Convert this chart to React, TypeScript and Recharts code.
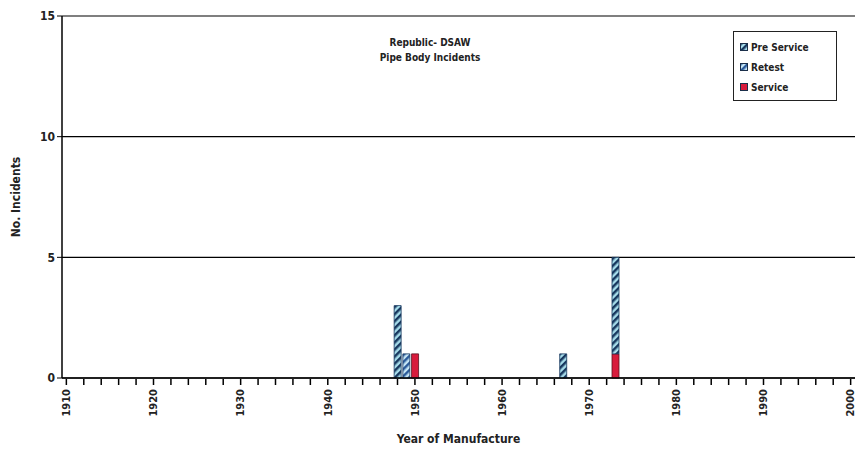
import React from "react"
import { Bar, BarChart, XAxis, YAxis, CartesianGrid, Label } from "recharts"

// first and last year on the axis
const firstYear = 1910
const lastYear = 2000

// [year, incidents], all other years are 0
const preService: [number, number][] = [
  [1948, 3],
  [1967, 1],
  [1973, 4],
]
const retest: [number, number][] = [[1949, 1]]
const service: [number, number][] = [
  [1950, 1],
  [1973, 1],
]

const yTicks = [0, 5, 10, 15]
const titleLines = ["Republic- DSAW", "Pipe Body Incidents"]
const legendItems = [
  { key: "preService", label: "Pre Service" },
  { key: "retest", label: "Retest" },
  { key: "service", label: "Service" },
]

const lookup = (list: [number, number][], year: number) => {
  const hit = list.find((d) => d[0] === year)
  return hit ? hit[1] : 0
}

const data: { year: number; preService: number; retest: number; service: number }[] = []
for (let y = firstYear; y <= lastYear; y++) {
  data.push({
    year: y,
    preService: lookup(preService, y),
    retest: lookup(retest, y),
    service: lookup(service, y),
  })
}

const font = "'DejaVu Sans Condensed', 'Liberation Sans Narrow', sans-serif"

const YearTick = (props: any) => {
  const { x, y, payload } = props
  const year = payload.value as number
  if (year % 2 !== 0) return null
  return (
    <g>
      <line x1={x} y1={y - 1} x2={x} y2={y + 5} stroke="#000" strokeWidth={1.5} />
      {year % 10 === 0 && (
        <text
          x={x}
          y={y + 9}
          transform={`rotate(-90, ${x}, ${y + 9})`}
          textAnchor="end"
          dy="0.35em"
          fontSize={11}
          fontWeight="bold"
          fontFamily={font}
          fill="#222"
        >
          {year}
        </text>
      )}
    </g>
  )
}

const icon: Record<string, string> = {
  preService: "url(#preHatch)",
  retest: "url(#retestHatch)",
  service: "#d81b3c",
}

export default function App() {
  return (
    <div style={{ position: "absolute", left: 0, top: 0, width: 859, height: 449, background: "#fff" }}>
      <BarChart
        width={859}
        height={449}
        data={data}
        margin={{ top: 16, right: 4, left: 0, bottom: 0 }}
        barCategoryGap={1}
        barGap={0}
      >
        <defs>
          <pattern id="preHatch" patternUnits="userSpaceOnUse" width={5} height={5} patternTransform="rotate(45)">
            <rect width={5} height={5} fill="#a6dcea" />
            <rect width={2.5} height={5} fill="#17375e" />
          </pattern>
          <pattern id="retestHatch" patternUnits="userSpaceOnUse" width={5} height={5} patternTransform="rotate(45)">
            <rect width={5} height={5} fill="#c4e4f4" />
            <rect width={2.5} height={5} fill="#2a5a9a" />
          </pattern>
        </defs>
        <CartesianGrid vertical={false} horizontal stroke="#000" strokeWidth={1.2} />
        <XAxis
          dataKey="year"
          interval={0}
          tick={<YearTick />}
          tickLine={false}
          tickSize={0}
          axisLine={{ stroke: "#000", strokeWidth: 1.5 }}
          height={71}
        >
          <Label
            value="Year of Manufacture"
            position="insideBottom"
            offset={6}
            style={{ fontFamily: font, fontWeight: "bold", fontSize: 12, fill: "#222" }}
          />
        </XAxis>
        <YAxis
          domain={[0, 15]}
          ticks={yTicks}
          width={62}
          tickSize={5}
          tickLine={{ stroke: "#000" }}
          axisLine={{ stroke: "#000", strokeWidth: 1.5 }}
          tick={{ fontFamily: font, fontWeight: "bold", fontSize: 12, fill: "#222" }}
        >
          <Label
            value="No. Incidents"
            angle={-90}
            position="insideLeft"
            offset={16}
            style={{ textAnchor: "middle", fontFamily: font, fontWeight: "bold", fontSize: 12, fill: "#222" }}
          />
        </YAxis>
        <Bar dataKey="service" name="Service" stackId="a" fill="#d81b3c" stroke="#5a1020" strokeWidth={0.8} isAnimationActive={false} />
        <Bar dataKey="preService" name="Pre Service" stackId="a" fill="url(#preHatch)" stroke="#17375e" strokeWidth={0.8} isAnimationActive={false} />
        <Bar dataKey="retest" name="Retest" stackId="a" fill="url(#retestHatch)" stroke="#17375e" strokeWidth={0.8} isAnimationActive={false} />
      </BarChart>
      <div
        style={{
          position: "absolute",
          left: 330,
          top: 35,
          width: 200,
          textAlign: "center",
          fontFamily: font,
          fontWeight: "bold",
          fontSize: 10,
          lineHeight: "15px",
          color: "#222",
        }}
      >
        {titleLines.map((t) => (
          <div key={t}>{t}</div>
        ))}
      </div>
      <div
        style={{
          position: "absolute",
          left: 733,
          top: 31,
          width: 96,
          border: "1.5px solid #222",
          padding: "5px 0 3px 6px",
          background: "#fff",
          fontFamily: font,
          fontWeight: "bold",
          fontSize: 10,
          color: "#222",
        }}
      >
        {legendItems.map((it) => (
          <div key={it.key} style={{ display: "flex", alignItems: "center", height: 20 }}>
            <svg width={8} height={8} style={{ marginRight: 3 }}>
              <rect x={0.5} y={0.5} width={7} height={7} fill={icon[it.key]} stroke="#1b2f4a" />
            </svg>
            {it.label}
          </div>
        ))}
      </div>
    </div>
  )
}
